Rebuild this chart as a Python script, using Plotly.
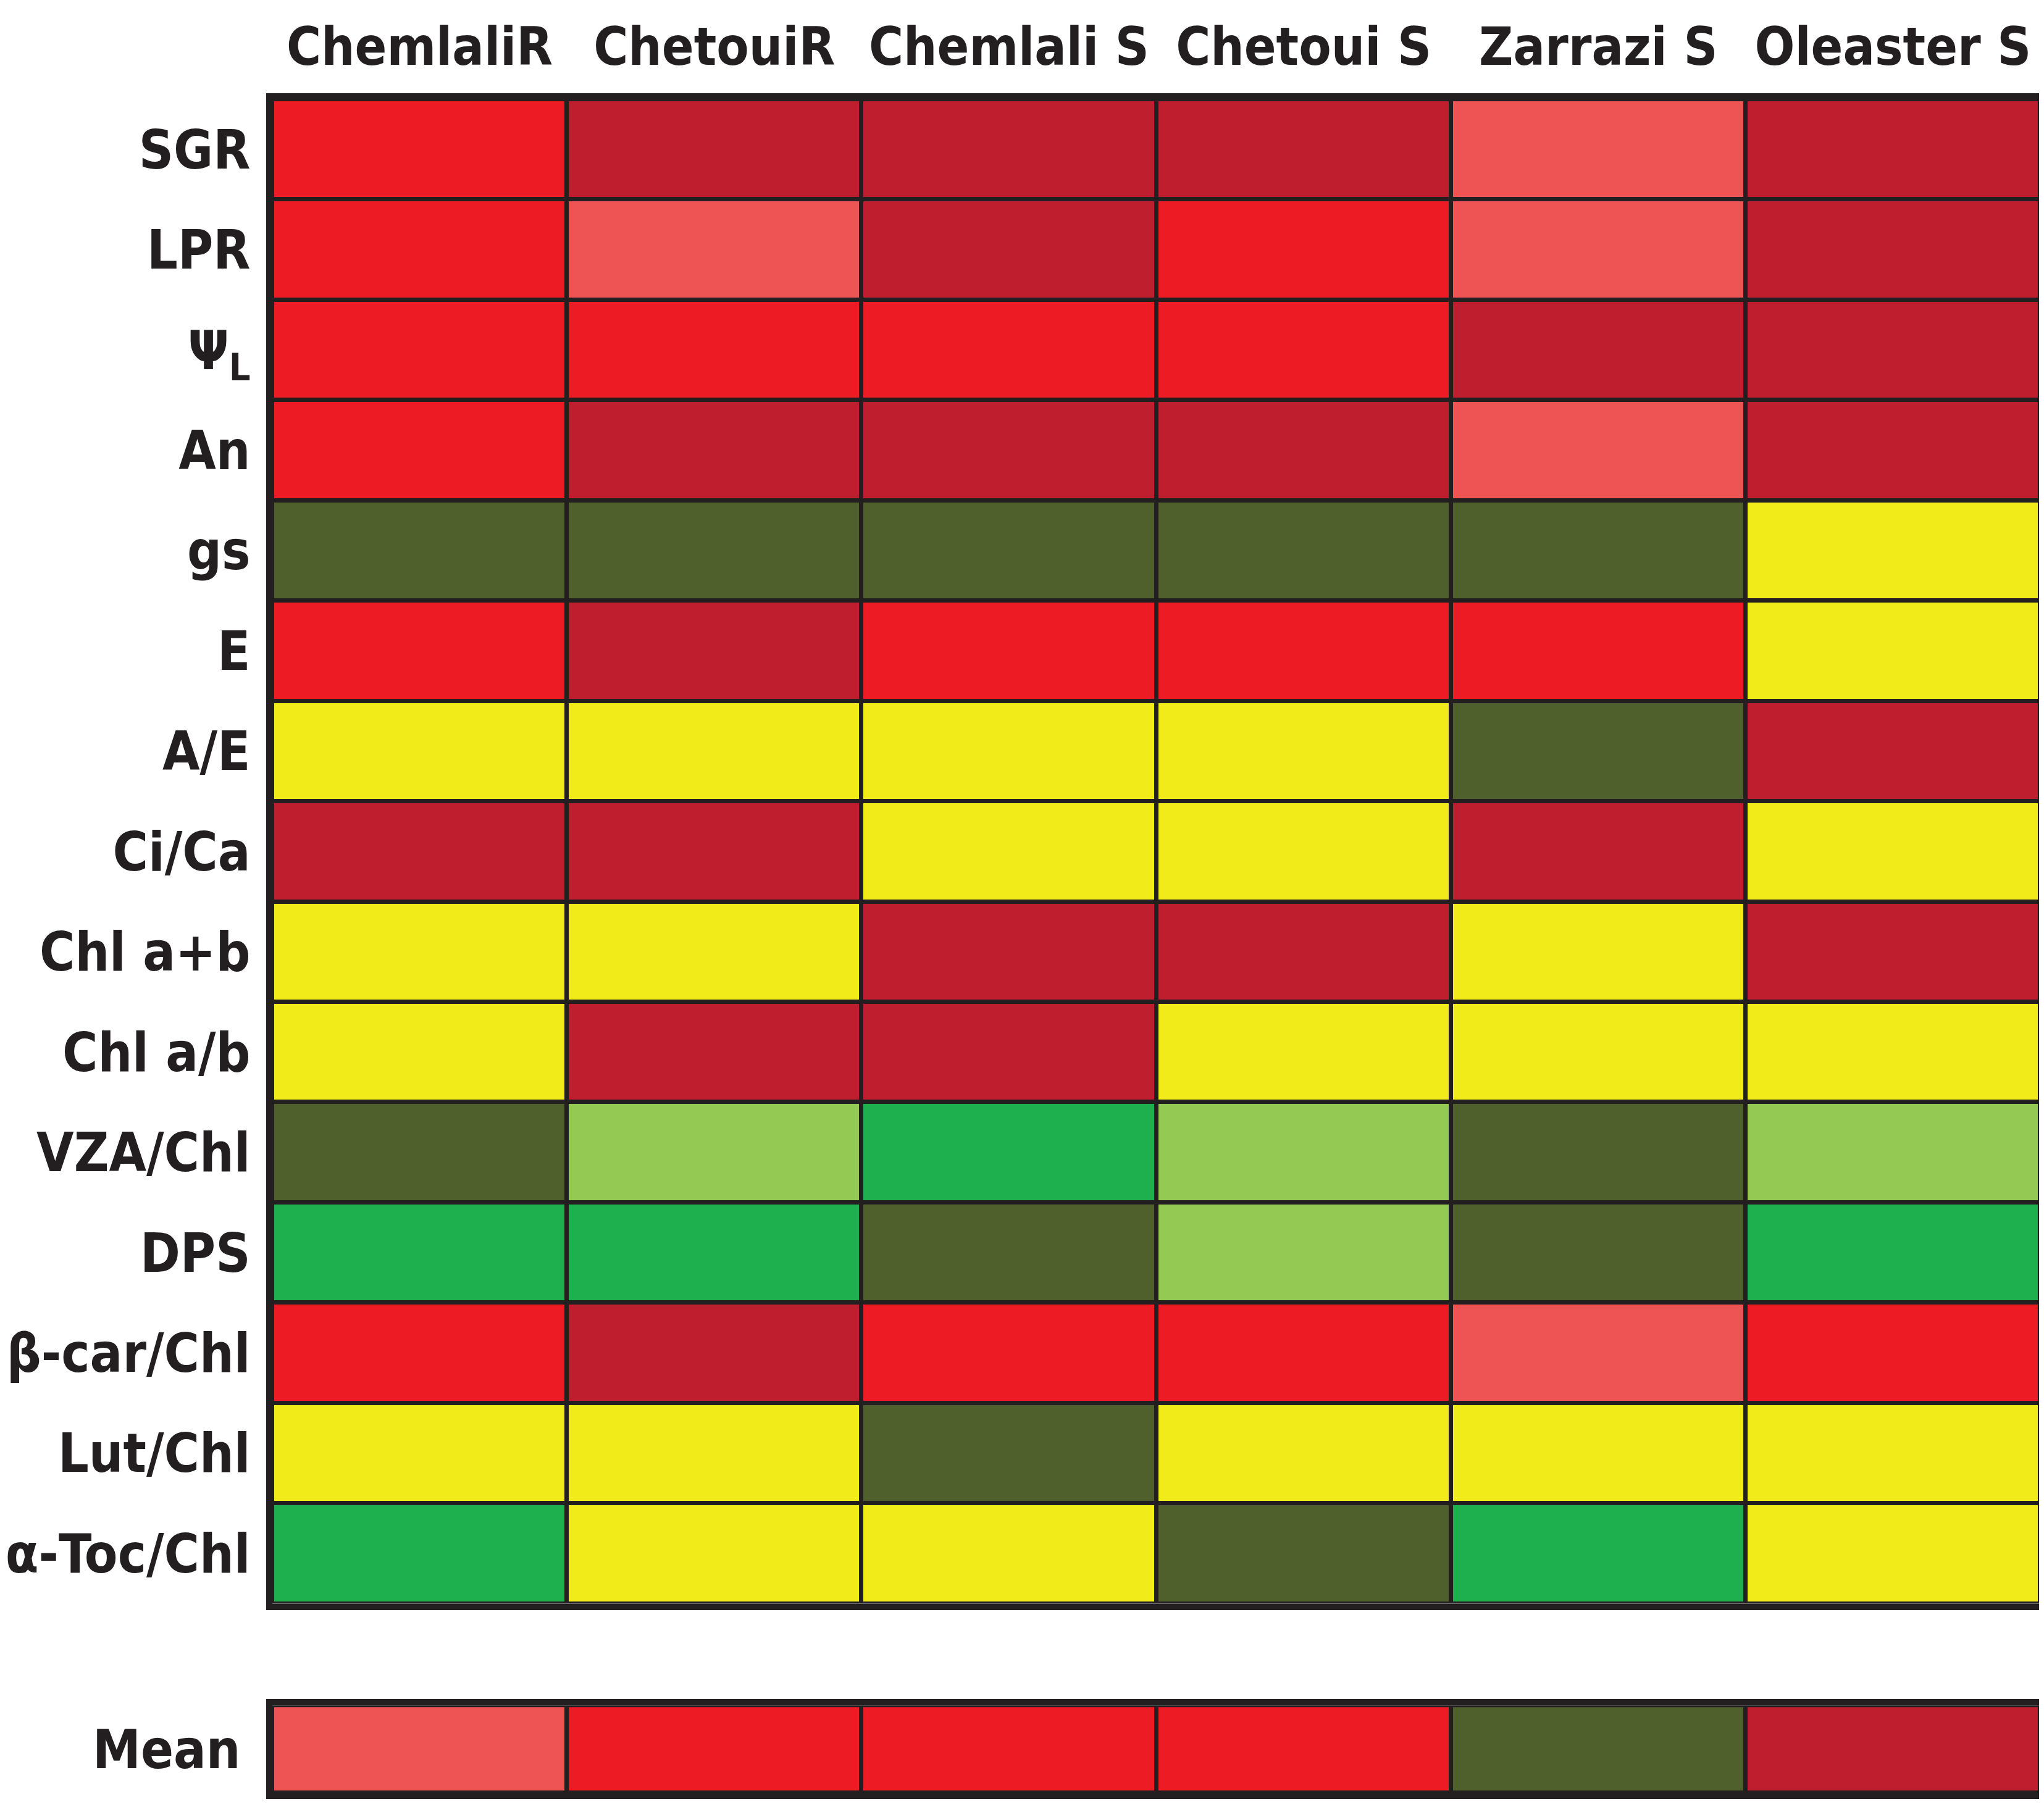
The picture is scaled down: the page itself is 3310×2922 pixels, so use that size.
import plotly.graph_objects as go
from plotly.subplots import make_subplots

# cultivars (columns) and traits (rows, top to bottom)
cultivars = ["ChemlaliR", "ChetouiR", "Chemlali S", "Chetoui S", "Zarrazi S", "Oleaster S"]
traits = [
    "SGR", "LPR", "Ψ<sub>L</sub>", "An", "gs", "E", "A/E", "Ci/Ca",
    "Chl a+b", "Chl a/b", "VZA/Chl", "DPS", "β-car/Chl", "Lut/Chl", "α-Toc/Chl",
]

# response class of each cell
# dr = dark red, r = red, lr = light red, y = yellow, o = olive, lg = light green, g = green
cells = [
    ["r", "dr", "dr", "dr", "lr", "dr"],
    ["r", "lr", "dr", "r", "lr", "dr"],
    ["r", "r", "r", "r", "dr", "dr"],
    ["r", "dr", "dr", "dr", "lr", "dr"],
    ["o", "o", "o", "o", "o", "y"],
    ["r", "dr", "r", "r", "r", "y"],
    ["y", "y", "y", "y", "o", "dr"],
    ["dr", "dr", "y", "y", "dr", "y"],
    ["y", "y", "dr", "dr", "y", "dr"],
    ["y", "dr", "dr", "y", "y", "y"],
    ["o", "lg", "g", "lg", "o", "lg"],
    ["g", "g", "o", "lg", "o", "g"],
    ["r", "dr", "r", "r", "lr", "r"],
    ["y", "y", "o", "y", "y", "y"],
    ["g", "y", "y", "o", "g", "y"],
]
mean_row = ["lr", "r", "r", "r", "o", "dr"]

classes = ["dr", "r", "lr", "y", "o", "lg", "g"]
class_colors = ["#BE1E2D", "#ED1C24", "#EF5455", "#F2EB1A", "#4F602D", "#94C953", "#1EB04E"]

BORDER = "#231F20"
FONT = "DejaVu Sans Condensed, Liberation Sans Narrow, sans-serif"
col_font = dict(family=FONT, size=85, color=BORDER, weight="bold")
row_font = dict(family=FONT, size=87, color=BORDER, weight="bold")

n = len(classes)
colorscale = []
for i, c in enumerate(class_colors):
    colorscale.append([i / n, c])
    colorscale.append([(i + 1) / n, c])

code = {c: i for i, c in enumerate(classes)}
z_main = [[code[c] + 0.5 for c in row] for row in cells]
z_mean = [[code[c] + 0.5 for c in mean_row]]

fig = make_subplots(rows=2, cols=1, row_heights=[0.945, 0.055], vertical_spacing=0.060)

common = dict(colorscale=colorscale, zmin=0, zmax=n, showscale=False,
              xgap=7, ygap=7, hoverinfo="skip")
fig.add_trace(go.Heatmap(z=z_main, x=cultivars, y=traits, **common), row=1, col=1)
fig.add_trace(go.Heatmap(z=z_mean, x=cultivars, y=["Mean"], **common), row=2, col=1)

axis_style = dict(showline=True, linecolor=BORDER, linewidth=10, mirror=True,
                  showgrid=False, zeroline=False, ticks="", automargin=False)
fig.update_xaxes(**axis_style)
fig.update_yaxes(**axis_style)

fig.update_xaxes(side="top", row=1, col=1, tickfont=col_font,
                 tickangle=0, ticklabelstandoff=12)
fig.update_xaxes(showticklabels=False, matches="x", row=2, col=1)
fig.update_yaxes(autorange="reversed", row=1, col=1, tickfont=row_font,
                 ticklabelstandoff=8)
fig.update_yaxes(row=2, col=1, tickfont=row_font, ticklabelstandoff=24)

fig.update_layout(
    width=3310,
    height=2922,
    margin=dict(l=433, r=14, t=153, b=26),
    plot_bgcolor=BORDER,
    paper_bgcolor="white",
)

fig.write_html("out.html")
